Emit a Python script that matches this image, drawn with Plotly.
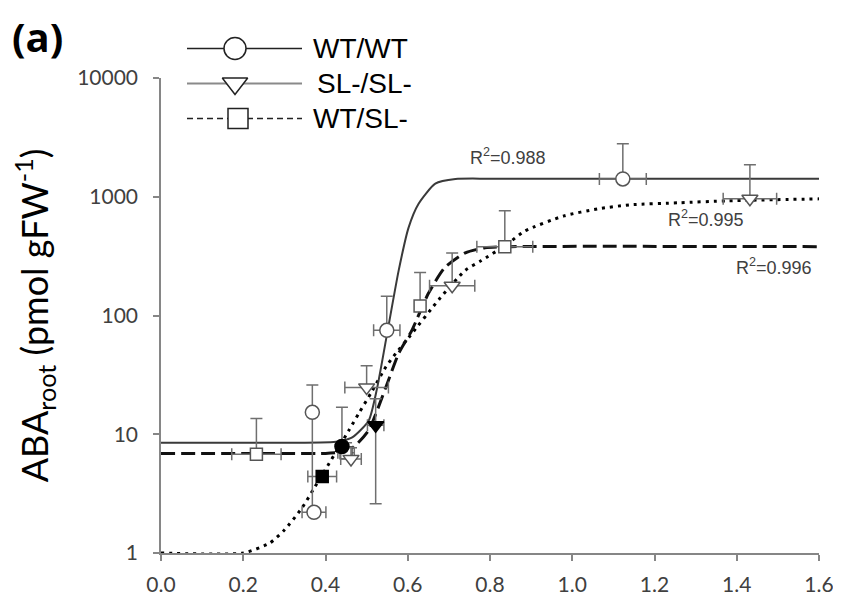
import math
import plotly.graph_objects as go

# ---------------- data ----------------
# WT/WT (circles)
wt_x = [0.368, 0.372, 0.44, 0.549, 1.123]
wt_y = [15.3, 2.2, 7.9, 75, 1413]
wt_yerr_plus = [10.7, 0.0, 9.0, 70, 1380]
wt_yerr_minus = [13.1, 0.0, 0.0, 0.0, 0.0]
wt_xerr = [0.0, 0.029, 0.0, 0.032, 0.057]
wt_filled = [False, False, True, False, False]

# SL-/SL- (down triangles)
sl_x = [0.462, 0.522, 0.50, 0.708, 1.432]
sl_y = [6.2, 11.9, 24.8, 178, 962]
sl_yerr_plus = [1.5, 8.0, 13.0, 158, 900]
sl_yerr_minus = [0.0, 9.3, 0.0, 0.0, 0.0]
sl_xerr = [0.025, 0.02, 0.053, 0.055, 0.065]
sl_filled = [False, True, False, False, False]

# WT/SL- (squares)
ws_x = [0.232, 0.392, 0.45, 0.63, 0.836]
ws_y = [6.8, 4.4, 7.0, 120, 380]
ws_yerr_plus = [6.8, 0.0, 1.5, 110, 384]
ws_yerr_minus = [0.0, 0.0, 0.0, 0.0, 0.0]
ws_xerr = [0.06, 0.035, 0.02, 0.0, 0.068]
ws_filled = [False, True, False, False, False]

# fitted curves
wt_fit_x = [0.0, 0.2, 0.35, 0.42, 0.44, 0.465, 0.505, 0.525, 0.547, 0.578, 0.602, 0.626, 0.667, 0.716, 0.8, 1.6]
wt_fit_y = [8.5, 8.5, 8.5, 8.6, 8.8, 9.4, 13, 24, 62, 240, 550, 870, 1290, 1410, 1420, 1420]

sl_fit_x = [0.0, 0.2, 0.264, 0.30, 0.343, 0.372, 0.409, 0.457, 0.481, 0.513, 0.547, 0.571, 0.602, 0.68, 0.74, 0.779, 0.837, 0.885, 0.98, 1.062, 1.14, 1.26, 1.38, 1.6]
sl_fit_y = [1.0, 1.0, 1.21, 1.56, 2.4, 3.5, 5.7, 10.8, 15, 23, 37, 48, 65, 142, 240, 290, 388, 515, 690, 790, 855, 890, 925, 960]

ws_fit_x = [0.0, 0.2, 0.4, 0.44, 0.47, 0.505, 0.547, 0.578, 0.61, 0.65, 0.69, 0.74, 0.788, 0.85, 1.6]
ws_fit_y = [6.9, 6.9, 6.9, 7.1, 7.9, 10.8, 25, 48, 75, 153, 253, 337, 372, 380, 380]

r2_labels = ["R<sup>2</sup>=0.988", "R<sup>2</sup>=0.995", "R<sup>2</sup>=0.996"]
r2_x = [0.843, 1.325, 1.49]
r2_y = [2200, 660, 261]

legend_names = ["WT/WT", "SL-/SL-", "WT/SL-"]

y_ticks = [1, 10, 100, 1000, 10000]
y_ticktext = ["1", "10", "100", "1000", "10000"]

# ---------------- figure geometry ----------------
OFF = 8                      # page body margin
PAGE_W, PAGE_H = 841, 604
W, H = PAGE_W - OFF, PAGE_H - OFF
# desired plot box in page pixels
P_LEFT, P_RIGHT, P_TOP, P_BOTTOM = 161, 819, 78, 553
ML = P_LEFT - OFF
MR = PAGE_W - P_RIGHT
MT = 10
MB = PAGE_H - P_BOTTOM
ph = H - MT - MB
pw = W - ML - MR
ydom_top = (P_BOTTOM - P_TOP) / ph


def px2paper_x(px):
    return (px - P_LEFT) / pw


def px2paper_y(py):
    return (P_BOTTOM - py) / ph


fig = go.Figure()

EB = "#6f6f6f"
MK = "#555555"


def curve(x, y, color, width, dash):
    fig.add_trace(go.Scatter(x=x, y=y, mode="lines",
                             line=dict(color=color, width=width, dash=dash, shape="spline", smoothing=0.6),
                             hoverinfo="skip", showlegend=False))


curve(sl_fit_x, sl_fit_y, "#000000", 3, "3px,5px")
curve(ws_fit_x, ws_fit_y, "#111111", 3, "14px,6px")
curve(wt_fit_x, wt_fit_y, "#3a3a3a", 2, "solid")


def points(x, y, yp, ym, xe, filled, symbol, size):
    fig.add_trace(go.Scatter(
        x=x, y=y, mode="markers",
        marker=dict(symbol=symbol, size=size,
                    color=["#000000" if f else "#ffffff" for f in filled],
                    line=dict(color=[("#000000" if f else MK) for f in filled], width=1.5)),
        error_y=dict(type="data", symmetric=False, array=yp, arrayminus=ym, color=EB, thickness=1.5, width=6),
        error_x=dict(type="data", array=xe, color=EB, thickness=1.5, width=6),
        showlegend=False))


points(ws_x, ws_y, ws_yerr_plus, ws_yerr_minus, ws_xerr, ws_filled, "square", 12)
points(sl_x, sl_y, sl_yerr_plus, sl_yerr_minus, sl_xerr, sl_filled, "triangle-down", 14)
points(wt_x, wt_y, wt_yerr_plus, wt_yerr_minus, wt_xerr, wt_filled, "circle", 14)

# ---------- legend (drawn on its own small axes) ----------
leg_x0, leg_x1 = 180, 440
leg_y0, leg_y1 = 31, 136
span = leg_x1 - leg_x0
leg_styles = [
    dict(symbol="circle", line=dict(color="#222222", width=1.5, dash="solid"), size=22),
    dict(symbol="triangle-down", line=dict(color="#8a8a8a", width=1.8, dash="solid"), size=22),
    dict(symbol="square", line=dict(color="#222222", width=1.5, dash="6px,4px"), size=20),
]
leg_line_x = [(187 - leg_x0) / span, (302 - leg_x0) / span]
leg_mark_x = [(p - leg_x0) / span for p in (235, 235, 238)]
leg_text_x = [(p - leg_x0) / span for p in (311, 315, 311)]
rows = [2.5, 1.5, 0.5]
for name, st, r, mx, tx in zip(legend_names, leg_styles, rows, leg_mark_x, leg_text_x):
    fig.add_trace(go.Scatter(x=leg_line_x, y=[r, r], mode="lines", line=st["line"],
                             xaxis="x2", yaxis="y2", showlegend=False, hoverinfo="skip"))
    fig.add_trace(go.Scatter(x=[mx], y=[r], mode="markers",
                             marker=dict(symbol=st["symbol"], size=st["size"], color="white",
                                         line=dict(color="#222222", width=1.5)),
                             xaxis="x2", yaxis="y2", showlegend=False, hoverinfo="skip"))
    fig.add_annotation(x=tx, y=r, xref="x2", yref="y2", text=name,
                       showarrow=False, xanchor="left", yanchor="middle",
                       font=dict(family="Liberation Sans, Arial", size=28, color="#000000"))

for t, x, y in zip(r2_labels, r2_x, r2_y):
    fig.add_annotation(x=x, y=math.log10(y), text=t, showarrow=False,
                       font=dict(family="Liberation Sans, Arial", size=18, color="#404040"))

fig.add_annotation(x=px2paper_x(10), y=px2paper_y(37), xref="paper", yref="paper",
                   text="<b>(a)</b>", showarrow=False, xanchor="left", yanchor="middle",
                   font=dict(family="Open Sans, Lato", size=40, color="#000000"))

fig.update_layout(
    width=W, height=H,
    margin=dict(l=ML, r=MR, t=MT, b=MB),
    paper_bgcolor="white", plot_bgcolor="white",
    showlegend=False,
    xaxis=dict(range=[0, 1.6], dtick=0.2, tick0=0, tickformat=".1f", showgrid=False, zeroline=False,
               showline=True, linecolor="#868686", linewidth=1.5, automargin=False,
               ticks="outside", ticklen=6, tickcolor="#868686", tickwidth=1.5,
               ticklabelstandoff=6,
               tickfont=dict(family="Lato, Open Sans", size=21, color="#404040")),
    yaxis=dict(type="log", range=[0, 4], domain=[0, ydom_top], tickvals=y_ticks, ticktext=y_ticktext,
               showgrid=False, zeroline=False, showline=True, linecolor="#868686", linewidth=1.5,
               automargin=False,
               ticks="outside", ticklen=6, tickcolor="#868686", tickwidth=1.5,
               ticklabelstandoff=11,
               tickfont=dict(family="Lato, Open Sans", size=21, color="#404040")),
)
fig.update_yaxes(title=dict(text="ABA<sub>root</sub> (pmol gFW<sup>-1</sup>)",
                            font=dict(family="Lato, Open Sans", size=36, color="#000000"), standoff=31))
fig.update_layout(
    xaxis2=dict(domain=[px2paper_x(leg_x0), px2paper_x(leg_x1)], range=[0, 1], visible=False, anchor="y2"),
    yaxis2=dict(domain=[px2paper_y(leg_y1), px2paper_y(leg_y0)], range=[0, 3], visible=False, anchor="x2"),
)
fig.update_layout(yaxis2_type="linear")

fig.write_html("out.html")
